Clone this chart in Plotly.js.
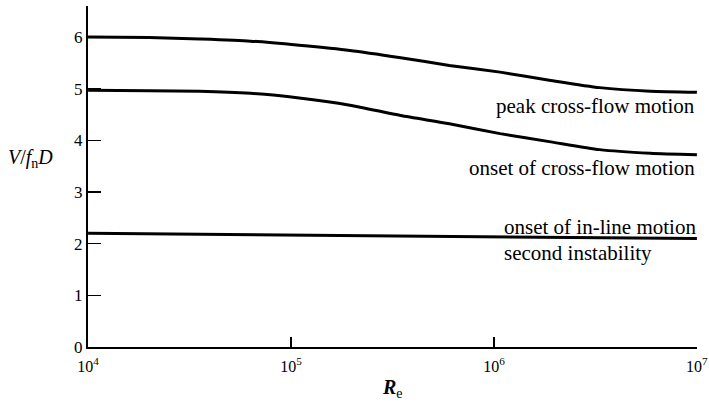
<!DOCTYPE html>
<html>
<head>
<meta charset="utf-8">
<script src="https://cdn.plot.ly/plotly-3.0.1.min.js"></script>
<style>html,body{margin:0;padding:0;background:#fff;}#chart{width:709px;height:402px;}</style>
</head>
<body>
<div id="chart"></div>
<script>
// Reynolds number (log10 values)
const logRe = [4.0, 4.3, 4.55, 4.8, 5.04, 5.29, 5.54, 5.78, 6.03, 6.28, 6.52, 6.77, 7.0];
const peakCrossFlow  = [6.0, 5.99, 5.96, 5.92, 5.84, 5.74, 5.60, 5.45, 5.32, 5.16, 5.02, 4.95, 4.93];
const onsetCrossFlow = [4.97, 4.96, 4.95, 4.91, 4.82, 4.68, 4.48, 4.32, 4.13, 3.97, 3.82, 3.75, 3.72];
const inLineLogRe = [4.0, 7.0];
const onsetInLine = [2.2, 2.1];
const yTicks = [0, 1, 2, 3, 4, 5, 6];
const xTicks = [1e4, 1e5, 1e6, 1e7];
const xTickText = ["10<sup>4</sup>", "10<sup>5</sup>", "10<sup>6</sup>", "10<sup>7</sup>"];
const labels = ["peak cross-flow motion", "onset of cross-flow motion", "onset of in-line motion", "second instability"];

const Re = logRe.map(v => Math.pow(10, v));
const ReInLine = inLineLogRe.map(v => Math.pow(10, v));
const serif = "Liberation Serif, Times New Roman, serif";
const lineStyle = {color: "#000", width: 3, shape: "spline", smoothing: 0.6};

const traces = [
  {x: Re, y: peakCrossFlow, mode: "lines", line: lineStyle, hoverinfo: "skip"},
  {x: Re, y: onsetCrossFlow, mode: "lines", line: lineStyle, hoverinfo: "skip"},
  {x: ReInLine, y: onsetInLine, mode: "lines", line: {color: "#000", width: 3}, hoverinfo: "skip"}
];

const labelFont = {family: serif, size: 21, color: "#000"};
const layout = {
  width: 709, height: 402,
  margin: {l: 88, r: 12, t: 6, b: 55, pad: 0},
  paper_bgcolor: "#fff", plot_bgcolor: "#fff",
  showlegend: false,
  xaxis: {
    type: "log", range: [3.9995, 7.0005], tickvals: xTicks, ticktext: xTickText,
    showgrid: false, zeroline: false, showline: true, linecolor: "#000", linewidth: 2,
    ticks: "inside", ticklen: 10, tickwidth: 1.5, tickcolor: "#000", ticklabelstandoff: 4,
    tickfont: {family: serif, size: 16, color: "#000"}
  },
  yaxis: {
    range: [0, 6.6], tickvals: yTicks, ticktext: yTicks.map(String),
    showgrid: false, zeroline: false, showline: true, linecolor: "#000", linewidth: 2,
    ticks: "inside", ticklen: 13, tickwidth: 1.5, tickcolor: "#000",
    tickfont: {family: serif, size: 17, color: "#000"}
  },
  annotations: [
    {x: 7, y: 4.66, xref: "x", yref: "y", text: labels[0], showarrow: false, xanchor: "right", yanchor: "middle", font: labelFont},
    {x: 7, y: 3.46, xref: "x", yref: "y", text: labels[1], showarrow: false, xanchor: "right", yanchor: "middle", font: labelFont},
    {x: 6.04, y: 2.33, xref: "x", yref: "y", text: labels[2], showarrow: false, xanchor: "left", yanchor: "middle", font: labelFont},
    {x: 6.04, y: 1.81, xref: "x", yref: "y", text: labels[3], showarrow: false, xanchor: "left", yanchor: "middle", font: labelFont},
    {x: -0.094, y: 0.553, xref: "paper", yref: "paper", text: "<i>V</i>/<i>f</i><sub>n</sub><i>D</i>", showarrow: false, xanchor: "center", yanchor: "middle", font: {family: serif, size: 20, color: "#000"}},
    {x: 0.50, y: -0.121, xref: "paper", yref: "paper", text: "<b><i>R</i></b><sub>e</sub>", showarrow: false, xanchor: "center", yanchor: "middle", font: {family: serif, size: 20, color: "#000"}}
  ]
};

Plotly.newPlot("chart", traces, layout, {staticPlot: true, displayModeBar: false});
</script>
</body>
</html>
